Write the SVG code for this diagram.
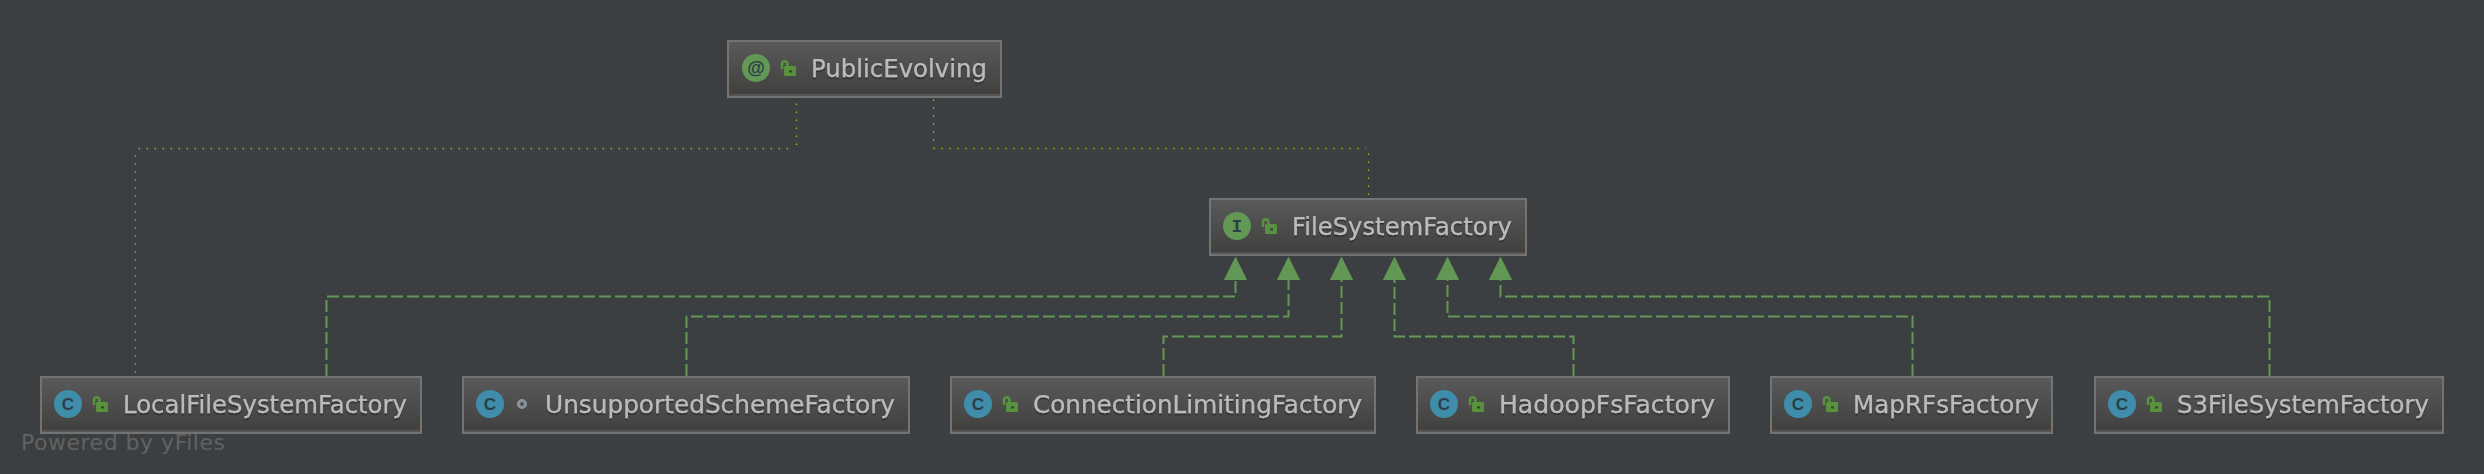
<svg xmlns="http://www.w3.org/2000/svg" width="2484" height="474" viewBox="0 0 2484 474">
<defs>
<linearGradient id="boxFill" x1="0" y1="0" x2="0" y2="1">
<stop offset="0" stop-color="#5a5a5a"/><stop offset="1" stop-color="#403f3e"/>
</linearGradient>
<filter id="textShadow" x="-5%" y="-20%" width="110%" height="150%">
<feDropShadow dx="0" dy="1.5" stdDeviation="0.7" flood-color="#202020" flood-opacity="0.8"/>
</filter>
<marker id="tri" viewBox="0 0 24 24" refX="12" refY="23.5" markerWidth="24" markerHeight="24" markerUnits="userSpaceOnUse" orient="0"><path d="M12 0 L23.6 23.5 L0.4 23.5 Z" fill="#629755"/></marker>
<g id="lockOpen">
<path d="M2 9 V4 Q2 1.2 4.6 1.2 Q7.4 1.2 7.4 4 V6" fill="none" stroke="#59923f" stroke-width="2.6"/>
<rect x="4" y="6" width="12" height="10" rx="1.5" fill="#59923f"/>
<rect x="9" y="10.2" width="3" height="2.4" rx="0.6" fill="#3f3f3f"/>
</g>
</defs>
<style>
.bg{fill:#3c3f41}
.box{fill:url(#boxFill);stroke:#737373;stroke-width:2}
.band{fill:#555453}
.name{font-family:"DejaVu Sans","Liberation Sans",sans-serif;font-size:25.5px;fill:#bbbbbb;stroke:#bbbbbb;stroke-width:0.25;filter:url(#textShadow)}
.glyph{font-family:"Liberation Sans",sans-serif;font-weight:700;font-size:17px;fill:#2b3f48;text-anchor:middle}
.mono{font-family:"Liberation Mono",monospace;font-weight:700;font-size:18px;fill:#2b3f48;text-anchor:middle}
.ic{fill:#3f8dab}
.ig{fill:#629755}
.dot{fill:none;stroke:#b0b000;stroke-width:1.4;stroke-dasharray:1.4 6.6}
.dash{fill:none;stroke:#629755;stroke-width:2;stroke-dasharray:12 4}
.power{font-family:"DejaVu Sans",sans-serif;font-size:22px;fill:#626262}
</style>
<rect class="bg" width="2484" height="474"/>
<g id="connectors">
<path class="dot" d="M796.5 103.5 V146 M788 148.5 H135.5 M135.5 155 V376"/>
<path class="dot" d="M933.5 99.5 V148 M933.5 148.5 H1366 M1368.5 153.5 V198"/>
<path class="dash" marker-end="url(#tri)" d="M326.5 376 V296.5 H1235.5 V280"/>
<path class="dash" marker-end="url(#tri)" d="M686.5 376 V316.5 H1288.5 V280"/>
<path class="dash" marker-end="url(#tri)" d="M1163.5 376 V336.5 H1341.5 V280"/>
<path class="dash" marker-end="url(#tri)" d="M1573.5 376 V336.5 H1394.5 V280"/>
<path class="dash" marker-end="url(#tri)" d="M1912.5 376 V316.5 H1447.5 V280"/>
<path class="dash" marker-end="url(#tri)" d="M2269.5 376 V296.5 H1500.5 V280"/>
</g>
<g id="PublicEvolving">
<rect class="box" x="728" y="41" width="273" height="56"/><rect class="band" x="729" y="94" width="271" height="2"/>
<circle class="ig" cx="756" cy="68" r="14"/>
<text class="glyph" style="font-size:18px" x="756" y="74">@</text>
<use href="#lockOpen" x="780" y="60"/>
<text class="name" x="811" y="77" textLength="176" lengthAdjust="spacingAndGlyphs">PublicEvolving</text>
</g>
<g id="FileSystemFactory">
<rect class="box" x="1210" y="199" width="316" height="56"/><rect class="band" x="1211" y="252" width="314" height="2"/>
<circle class="ig" cx="1237" cy="226" r="14"/>
<text class="mono" x="1237" y="232">I</text>
<use href="#lockOpen" x="1261" y="218"/>
<text class="name" x="1292" y="235" textLength="220" lengthAdjust="spacingAndGlyphs">FileSystemFactory</text>
</g>
<g id="LocalFileSystemFactory">
<rect class="box" x="41" y="377" width="380" height="56"/><rect class="band" x="42" y="430" width="378" height="2"/>
<circle class="ic" cx="68" cy="404" r="14"/>
<text class="glyph" x="68" y="410">C</text>
<use href="#lockOpen" x="92" y="396"/>
<text class="name" x="123" y="413" textLength="284" lengthAdjust="spacingAndGlyphs">LocalFileSystemFactory</text>
</g>
<g id="UnsupportedSchemeFactory">
<rect class="box" x="463" y="377" width="446" height="56"/><rect class="band" x="464" y="430" width="444" height="2"/>
<circle class="ic" cx="490" cy="404" r="14"/>
<text class="glyph" x="490" y="410">C</text>
<circle cx="522" cy="404" r="3.5" fill="none" stroke="#8a939b" stroke-width="3.2"/>
<text class="name" x="545" y="413" textLength="350" lengthAdjust="spacingAndGlyphs">UnsupportedSchemeFactory</text>
</g>
<g id="ConnectionLimitingFactory">
<rect class="box" x="951" y="377" width="424" height="56"/><rect class="band" x="952" y="430" width="422" height="2"/>
<circle class="ic" cx="978" cy="404" r="14"/>
<text class="glyph" x="978" y="410">C</text>
<use href="#lockOpen" x="1002" y="396"/>
<text class="name" x="1033" y="413" textLength="329" lengthAdjust="spacingAndGlyphs">ConnectionLimitingFactory</text>
</g>
<g id="HadoopFsFactory">
<rect class="box" x="1417" y="377" width="312" height="56"/><rect class="band" x="1418" y="430" width="310" height="2"/>
<circle class="ic" cx="1444" cy="404" r="14"/>
<text class="glyph" x="1444" y="410">C</text>
<use href="#lockOpen" x="1468" y="396"/>
<text class="name" x="1499" y="413" textLength="216" lengthAdjust="spacingAndGlyphs">HadoopFsFactory</text>
</g>
<g id="MapRFsFactory">
<rect class="box" x="1771" y="377" width="281" height="56"/><rect class="band" x="1772" y="430" width="279" height="2"/>
<circle class="ic" cx="1798" cy="404" r="14"/>
<text class="glyph" x="1798" y="410">C</text>
<use href="#lockOpen" x="1822" y="396"/>
<text class="name" x="1853" y="413" textLength="186" lengthAdjust="spacingAndGlyphs">MapRFsFactory</text>
</g>
<g id="S3FileSystemFactory">
<rect class="box" x="2095" y="377" width="348" height="56"/><rect class="band" x="2096" y="430" width="346" height="2"/>
<circle class="ic" cx="2122" cy="404" r="14"/>
<text class="glyph" x="2122" y="410">C</text>
<use href="#lockOpen" x="2146" y="396"/>
<text class="name" x="2177" y="413" textLength="252" lengthAdjust="spacingAndGlyphs">S3FileSystemFactory</text>
</g>
<text class="power" x="21" y="450" textLength="204" lengthAdjust="spacing">Powered by yFiles</text>
</svg>
